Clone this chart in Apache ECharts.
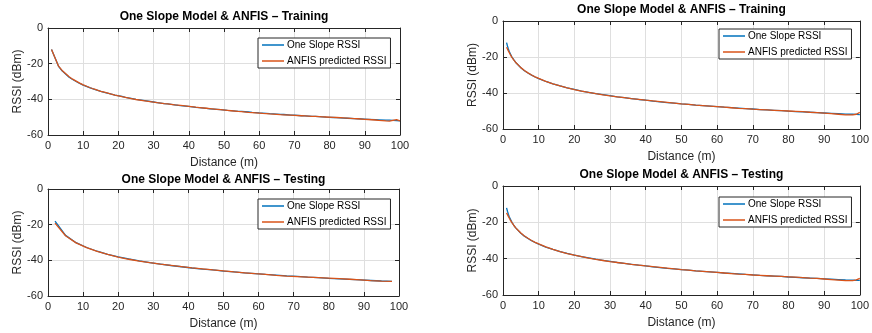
<!DOCTYPE html>
<html>
<head>
<meta charset="utf-8" />
<title>One Slope Model & ANFIS</title>
<script src="https://cdn.jsdelivr.net/npm/echarts@6/dist/echarts.min.js"></script>
<style>
  * { margin: 0; padding: 0; }
  html, body { width: 872px; height: 333px; background: #fff; }
</style>
</head>
<body>
<div id="main" style="width: 872px; height: 333px;"></div>
<script type="text/javascript">
// left column: training / testing samples (coarse)
const trainDist = [1, 3, 4, 6, 7, 9, 10, 12, 13, 15, 16, 18, 19, 21, 22, 24, 25, 27, 28, 30, 31, 33, 34, 36, 37, 39, 40, 42, 43, 45, 46, 48, 49, 51, 52, 54, 55, 57, 58, 60, 61, 63, 64, 66, 67, 69, 70, 72, 73, 75, 76, 78, 79, 81, 82, 84, 85, 87, 88, 90, 91, 93, 94, 96, 97, 99, 100];
const trainRssi = [-12.0, -21.5, -24.0, -27.6, -28.9, -31.1, -32.0, -33.6, -34.3, -35.5, -36.1, -37.1, -37.6, -38.4, -38.9, -39.6, -40.0, -40.6, -40.9, -41.5, -41.8, -42.4, -42.6, -43.1, -43.4, -43.8, -44.0, -44.5, -44.7, -45.1, -45.3, -45.6, -45.8, -46.2, -46.3, -46.7, -46.8, -47.1, -47.3, -47.6, -47.7, -48.0, -48.1, -48.4, -48.5, -48.8, -48.9, -49.2, -49.3, -49.5, -49.6, -49.8, -50.0, -50.2, -50.3, -50.5, -50.6, -50.8, -50.9, -51.1, -51.2, -51.4, -51.5, -51.7, -51.7, -51.9, -52.0];
const trainAnfis = [-12.1, -21.4, -23.8, -27.3, -28.7, -30.9, -31.9, -33.5, -34.2, -35.5, -36.0, -37.1, -37.6, -38.5, -38.9, -39.7, -40.1, -40.7, -41.0, -41.6, -41.9, -42.4, -42.6, -43.1, -43.3, -43.7, -43.9, -44.4, -44.6, -45.0, -45.2, -45.6, -45.8, -46.2, -46.4, -46.8, -46.9, -47.3, -47.4, -47.7, -47.9, -48.2, -48.3, -48.6, -48.7, -48.9, -49.0, -49.2, -49.3, -49.5, -49.6, -49.8, -49.9, -50.1, -50.2, -50.4, -50.5, -50.8, -50.9, -51.2, -51.3, -51.6, -51.8, -52.1, -52.2, -51.4, -52.1];

const testDist = [2, 5, 8, 11, 14, 17, 20, 23, 26, 29, 32, 35, 38, 41, 44, 47, 50, 53, 56, 59, 62, 65, 68, 71, 74, 77, 80, 83, 86, 89, 92, 95, 98];
const testRssi = [-18.0, -26.0, -30.1, -32.8, -34.9, -36.6, -38.0, -39.2, -40.3, -41.3, -42.1, -42.9, -43.6, -44.3, -44.9, -45.4, -46.0, -46.5, -47.0, -47.4, -47.9, -48.3, -48.7, -49.0, -49.4, -49.7, -50.1, -50.4, -50.7, -51.0, -51.3, -51.6, -51.8];
const testAnfis = [-19.1, -26.2, -30.2, -32.9, -35.0, -36.7, -38.2, -39.4, -40.4, -41.3, -42.1, -42.8, -43.5, -44.2, -44.8, -45.4, -45.9, -46.5, -47.0, -47.5, -47.9, -48.4, -48.8, -49.1, -49.4, -49.7, -50.0, -50.3, -50.6, -51.0, -51.4, -51.7, -51.8];

// right column: dense evaluation of the same curves
const fineDist = [1, 1.25, 1.5, 1.75, 2, 2.5, 3, 3.5, 4, 5, 6, 7, 8, 9, 10, 12, 14, 16, 18, 20, 22, 24, 26, 28, 30, 32, 34, 36, 38, 40, 42, 44, 46, 48, 50, 52, 54, 56, 58, 60, 62, 64, 66, 68, 70, 72, 74, 76, 78, 80, 82, 84, 86, 88, 90, 92, 94, 96, 98, 99, 100];
const fineRssi = [-12.0, -13.9, -15.5, -16.9, -18.0, -20.0, -21.5, -22.9, -24.0, -26.0, -27.6, -28.9, -30.1, -31.1, -32.0, -33.6, -34.9, -36.1, -37.1, -38.0, -38.9, -39.6, -40.3, -40.9, -41.5, -42.1, -42.6, -43.1, -43.6, -44.0, -44.5, -44.9, -45.3, -45.6, -46.0, -46.3, -46.7, -47.0, -47.3, -47.6, -47.9, -48.1, -48.4, -48.7, -48.9, -49.2, -49.4, -49.6, -49.8, -50.1, -50.3, -50.5, -50.7, -50.9, -51.1, -51.3, -51.5, -51.7, -51.8, -51.9, -52.0];
const fineAnfisTrain = [-14.6, -15.6, -16.6, -17.6, -18.5, -20.2, -21.6, -22.9, -24.0, -25.9, -27.5, -28.8, -30.0, -31.0, -31.9, -33.5, -34.9, -36.1, -37.2, -38.1, -38.9, -39.7, -40.4, -41.0, -41.6, -42.1, -42.6, -43.1, -43.5, -44.0, -44.4, -44.8, -45.2, -45.6, -46.0, -46.3, -46.7, -47.0, -47.3, -47.6, -47.9, -48.2, -48.5, -48.7, -49.0, -49.2, -49.4, -49.6, -49.8, -50.0, -50.2, -50.4, -50.7, -50.9, -51.2, -51.5, -51.8, -52.2, -52.2, -51.8, -50.8];
const fineAnfisTest = [-14.8, -15.7, -16.7, -17.7, -18.6, -20.2, -21.6, -22.9, -24.0, -25.9, -27.5, -28.8, -30.0, -31.0, -31.9, -33.5, -34.9, -36.1, -37.2, -38.1, -38.9, -39.7, -40.4, -41.0, -41.6, -42.1, -42.6, -43.1, -43.5, -44.0, -44.4, -44.8, -45.2, -45.6, -46.0, -46.3, -46.7, -47.0, -47.3, -47.6, -47.9, -48.2, -48.5, -48.7, -49.0, -49.2, -49.4, -49.6, -49.8, -50.0, -50.2, -50.4, -50.7, -50.9, -51.2, -51.5, -51.8, -52.1, -52.1, -51.7, -50.9];

const panels = [
  { grid: { left: 48, top: 28, width: 352, height: 107 }, legend: { left: 258, top: 38 }, titleGap: 5,
    title: 'One Slope Model & ANFIS \u2013 Training', dist: trainDist, rssi: trainRssi, anfis: trainAnfis },
  { grid: { left: 503, top: 21, width: 359, height: 108 }, legend: { left: 719, top: 29 }, titleGap: 5,
    title: 'One Slope Model & ANFIS \u2013 Training', dist: fineDist, rssi: fineRssi, anfis: fineAnfisTrain },
  { grid: { left: 48, top: 189, width: 351, height: 107 }, legend: { left: 258, top: 199 }, titleGap: 3,
    title: 'One Slope Model & ANFIS \u2013 Testing', dist: testDist, rssi: testRssi, anfis: testAnfis },
  { grid: { left: 503, top: 186, width: 359, height: 109 }, legend: { left: 719, top: 197 }, titleGap: 5,
    title: 'One Slope Model & ANFIS \u2013 Testing', dist: fineDist, rssi: fineRssi, anfis: fineAnfisTest }
];

const ink = '#262626';
const font = 'Liberation Sans, Arial, sans-serif';
const blue = '#0072BD';
const orange = '#D95319';

const grid = [], xAxis = [], yAxis = [], series = [], legend = [];

panels.forEach((p, i) => {
  grid.push(Object.assign({ containLabel: false }, p.grid));

  // bottom axis with label, top axis carries the title
  xAxis.push({
    type: 'value', gridIndex: i, position: 'bottom', min: 0, max: 100, interval: 10,
    name: 'Distance (m)', nameLocation: 'middle', nameGap: 22,
    nameTextStyle: { color: ink, fontSize: 12, fontFamily: font },
    axisLine: { show: true, onZero: false, lineStyle: { color: ink, width: 1 } },
    axisTick: { show: true, inside: true, length: 4, lineStyle: { color: ink } },
    axisLabel: { color: ink, fontSize: 11, fontFamily: font, margin: 5 },
    splitLine: { show: true, lineStyle: { color: '#dfdfdf', width: 1 } }
  });
  xAxis.push({
    type: 'value', gridIndex: i, position: 'top', min: 0, max: 100, interval: 10,
    name: p.title, nameLocation: 'middle', nameGap: p.titleGap,
    nameTextStyle: { color: '#000', fontSize: 12, fontWeight: 'bold', fontFamily: font },
    axisLine: { show: true, onZero: false, lineStyle: { color: ink, width: 1 } },
    axisTick: { show: true, inside: true, length: 4, lineStyle: { color: ink } },
    axisLabel: { show: false }, splitLine: { show: false }
  });
  yAxis.push({
    type: 'value', gridIndex: i, position: 'left', min: -60, max: 0, interval: 20,
    name: 'RSSI (dBm)', nameLocation: 'middle', nameGap: 24,
    nameTextStyle: { color: ink, fontSize: 12, fontFamily: font },
    axisLine: { show: true, onZero: false, lineStyle: { color: ink, width: 1 } },
    axisTick: { show: true, inside: true, length: 4, lineStyle: { color: ink } },
    axisLabel: { color: ink, fontSize: 11, fontFamily: font, margin: 5 },
    splitLine: { show: true, lineStyle: { color: '#dfdfdf', width: 1 } }
  });
  yAxis.push({
    type: 'value', gridIndex: i, position: 'right', min: -60, max: 0, interval: 20,
    axisLine: { show: true, onZero: false, lineStyle: { color: ink, width: 1 } },
    axisTick: { show: true, inside: true, length: 4, lineStyle: { color: ink } },
    axisLabel: { show: false }, splitLine: { show: false }
  });

  const nameA = 'One Slope RSSI', nameB = 'ANFIS predicted RSSI';
  series.push({
    name: nameA, type: 'line', xAxisIndex: 2 * i, yAxisIndex: 2 * i,
    data: p.dist.map((d, k) => [d, p.rssi[k]]),
    showSymbol: false, symbol: 'none', animation: false,
    lineStyle: { color: blue, width: 1.3 }, itemStyle: { color: blue }
  });
  series.push({
    name: nameB, type: 'line', xAxisIndex: 2 * i, yAxisIndex: 2 * i,
    data: p.dist.map((d, k) => [d, p.anfis[k]]),
    showSymbol: false, symbol: 'none', animation: false,
    lineStyle: { color: orange, width: 1.3 }, itemStyle: { color: orange }
  });

  legend.push({
    left: p.legend.left, top: p.legend.top, orient: 'vertical',
    data: [nameA, nameB], icon: 'rect',
    padding: [1, 4, 1, 4], itemGap: 4, itemWidth: 22, itemHeight: 1.5,
    backgroundColor: '#fff', borderColor: ink, borderWidth: 1, borderRadius: 0,
    textStyle: { color: '#000', fontSize: 10, lineHeight: 12, fontFamily: font, padding: [0, 0, 0, -2] },
    selectedMode: false
  });
});

const myChart = echarts.init(document.getElementById('main'));
myChart.setOption({
  animation: false,
  backgroundColor: '#fff',
  grid, xAxis, yAxis, series, legend
});
</script>
</body>
</html>
